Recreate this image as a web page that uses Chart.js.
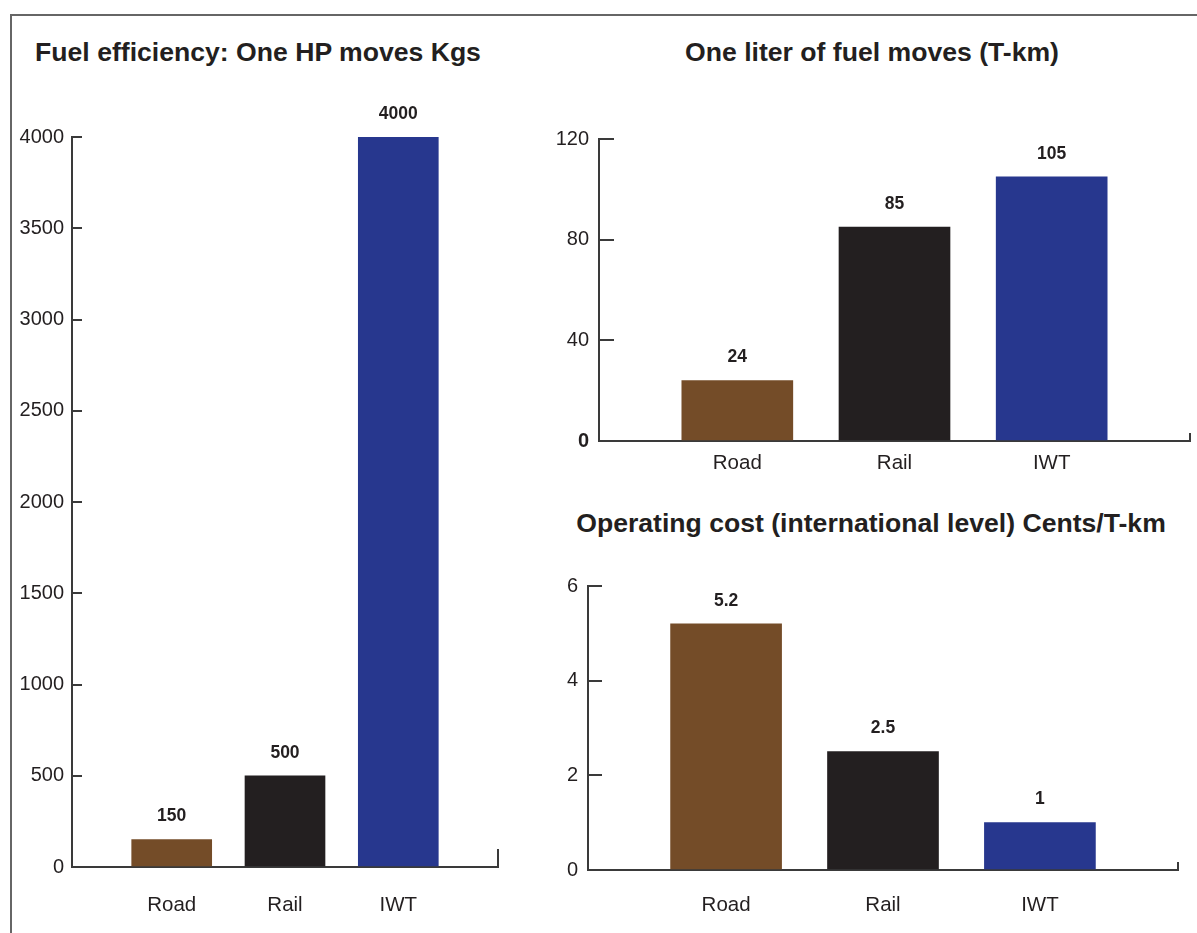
<!DOCTYPE html>
<html>
<head>
<meta charset="utf-8">
<script src="https://cdn.jsdelivr.net/npm/chart.js@4.4.1/dist/chart.umd.min.js"></script>
<style>
  html, body { margin: 0; padding: 0; background: #fff; }
  body { width: 1197px; height: 933px; position: relative; overflow: hidden; font-family: "Liberation Sans", Arial, sans-serif; }
  .frame { position: absolute; left: 10px; top: 14px; width: 1300px; height: 1000px; border-top: 2px solid #666; border-left: 2px solid #666; }
  .title { position: absolute; transform: translateX(-50%); white-space: nowrap; font-weight: bold; font-size: 26.6px; line-height: 30px; color: #231F20; }
  .box { position: absolute; }
</style>
</head>
<body>
<div class="frame"></div>

<div class="title" style="left:258px; top:37px;">Fuel efficiency: One HP moves Kgs</div>
<div class="title" style="left:872px; top:37px;">One liter of fuel moves (T-km)</div>
<div class="title" style="left:871px; top:508px;">Operating cost (international level) Cents/T-km</div>

<div class="box" style="left:0px; top:90px; width:520px; height:843px;"><canvas id="hpChart"></canvas></div>
<div class="box" style="left:520px; top:90px; width:677px; height:391px;"><canvas id="literChart"></canvas></div>
<div class="box" style="left:520px; top:550px; width:677px; height:383px;"><canvas id="costChart"></canvas></div>

<script>
// data
var categories = ["Road", "Rail", "IWT"];
var barColors = ["#744C28", "#231F20", "#27378E"];

var hpKgs = [150, 500, 4000];        // one HP moves (kg)
var literTkm = [24, 85, 105];        // one liter of fuel moves (T-km)
var costCents = [5.2, 2.5, 1];       // operating cost, cents/T-km

var hpTicks = [0, 500, 1000, 1500, 2000, 2500, 3000, 3500, 4000];
var literTicks = [0, 40, 80, 120];
var costTicks = [0, 2, 4, 6];

var XMIN = 0.12, XMAX = 3.88;
var axisColor = "#3a3a3a";
var textColor = "#231F20";
var fontFamily = '"Liberation Sans", Arial, sans-serif';

//draws the value above each bar
var valueLabels = {
  id: "valueLabels",
  afterDatasetsDraw: function (chart) {
    var ctx = chart.ctx;
    var meta = chart.getDatasetMeta(0);
    var data = chart.data.datasets[0].data;
    ctx.save();
    ctx.font = "bold 17.5px " + fontFamily;
    ctx.fillStyle = textColor;
    ctx.textAlign = "center";
    ctx.textBaseline = "middle";
    meta.data.forEach(function (bar, i) {
      ctx.fillText(String(data[i].y), bar.x, bar.y - 23);
    });
    ctx.restore();
  }
};

function makeChart(id, values, yTicks, s) {
  var ctx = document.getElementById(id).getContext("2d");
  return new Chart(ctx, {
    type: "bar",
    data: {
      datasets: [{
        data: values.map(function (v, i) { return { x: i + 1, y: v }; }),
        backgroundColor: barColors,
        barThickness: s.barWidth
      }]
    },
    plugins: [valueLabels],
    options: {
      responsive: true,
      maintainAspectRatio: false,
      animation: false,
      layout: { padding: { top: s.padTop, right: s.padRight, left: 0, bottom: 0 } },
      plugins: { legend: { display: false }, tooltip: { enabled: false } },
      scales: {
        x: {
          type: "linear",
          min: XMIN,
          max: XMAX,
          offset: false,
          afterBuildTicks: function (scale) {
            scale.ticks = [{ value: 1 }, { value: 2 }, { value: 3 }, { value: XMAX }];
          },
          afterFit: function (scale) {
            scale.height = s.xHeight;
            scale.paddingLeft = 0;
            scale.paddingRight = 0;
          },
          grid: {
            offset: false,
            drawOnChartArea: false,
            tickLength: -s.endTick,
            lineWidth: 2,
            color: function (c) {
              return c.tick && c.tick.value === XMAX ? axisColor : "rgba(0,0,0,0)";
            }
          },
          border: { display: true, color: axisColor, width: 2 },
          ticks: {
            autoSkip: false,
            maxRotation: 0,
            padding: s.xPad,
            color: textColor,
            font: { family: fontFamily, size: 20.5 },
            callback: function (v, i) { return categories[i] || ""; }
          }
        },
        y: {
          min: yTicks[0],
          max: yTicks[yTicks.length - 1],
          afterBuildTicks: function (scale) {
            scale.ticks = yTicks.map(function (t) { return { value: t }; });
          },
          afterFit: function (scale) { scale.width = s.yWidth; },
          grid: {
            drawOnChartArea: false,
            tickLength: -s.yTick,
            lineWidth: 2,
            color: axisColor
          },
          border: { display: true, color: axisColor, width: 2 },
          ticks: {
            padding: s.yPad,
            color: textColor,
            callback: function (v) { return String(v); },
            font: function (c) {
              var bold = s.boldZero && c.tick && c.tick.value === 0;
              return { family: fontFamily, size: 20, weight: bold ? "bold" : "normal" };
            }
          }
        }
      }
    }
  });
}

makeChart("hpChart", hpKgs, hpTicks, {
  barWidth: 80, padTop: 47, padRight: 22, xHeight: 66, endTick: 18, xPad: 44,
  yWidth: 72, yTick: 10, yPad: 18, boldZero: false
});

makeChart("literChart", literTkm, literTicks, {
  barWidth: 111, padTop: 49, padRight: 7, xHeight: 40, endTick: 8, xPad: 18,
  yWidth: 79, yTick: 15, yPad: 25, boldZero: true
});

makeChart("costChart", costCents, costTicks, {
  barWidth: 111, padTop: 34, padRight: 19, xHeight: 63, endTick: 8, xPad: 31,
  yWidth: 68, yTick: 14, yPad: 24, boldZero: false
});
</script>
</body>
</html>
